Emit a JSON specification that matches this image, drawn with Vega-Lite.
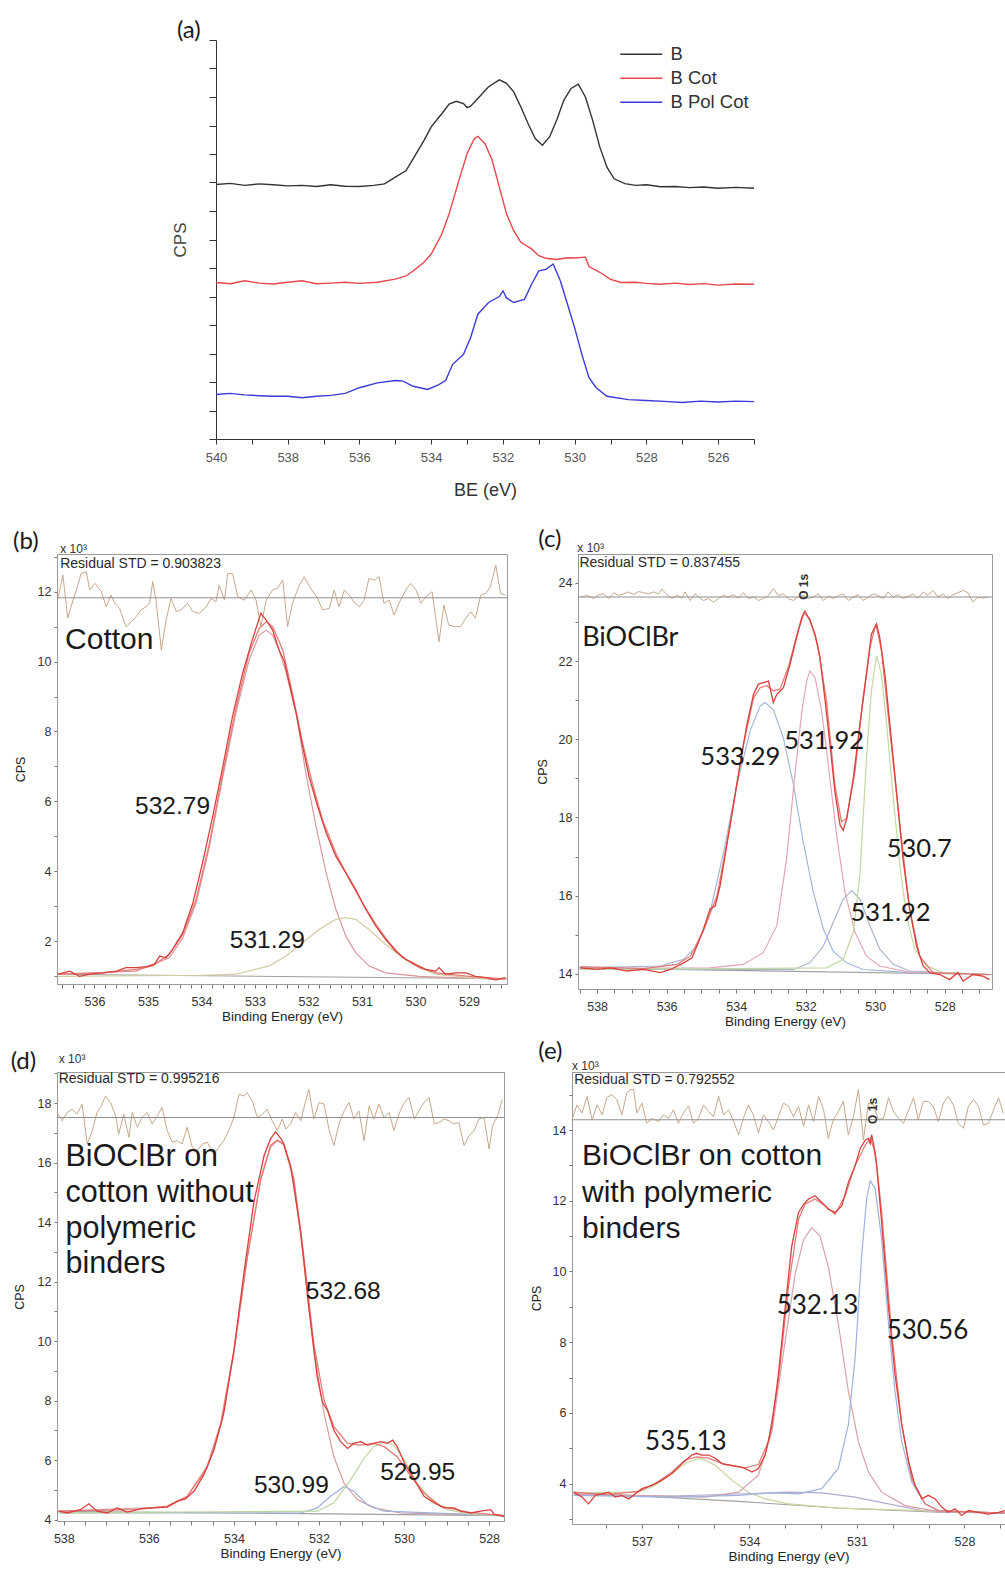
{
"$schema":"https://vega.github.io/schema/vega-lite/v6.json",
"padding":{"left":10,"top":19,"right":0,"bottom":0},
"background":"white",
"config":{"font":"Liberation Sans","view":{"stroke":null},
 "axis":{"grid":false,"labelFont":"Liberation Sans","titleFont":"Liberation Sans","labelColor":"#333","titleColor":"#222","titleFontWeight":"normal","labelOverlap":false,"labelFlush":false,"domainColor":"#999","tickColor":"#777"},
 "text":{"color":"#1a1a1a"}},
"resolve":{"scale":{"color":"independent","strokeWidth":"independent"},"legend":{"color":"independent","strokeWidth":"independent"}},
"datasets":{
"a":[
{"s":"B","be":540,"cps":8.93},{"s":"B","be":539.6,"cps":8.97},{"s":"B","be":539.2,"cps":8.9},{"s":"B","be":538.8,"cps":8.95},{"s":"B","be":538.4,"cps":8.92},{"s":"B","be":538,"cps":8.88},{"s":"B","be":537.6,"cps":8.9},{"s":"B","be":537.2,"cps":8.86},{"s":"B","be":536.8,"cps":8.92},{"s":"B","be":536.4,"cps":8.87},{"s":"B","be":536,"cps":8.86},{"s":"B","be":535.6,"cps":8.9},{"s":"B","be":535.3,"cps":8.95},{"s":"B","be":535,"cps":9.19},{"s":"B","be":534.7,"cps":9.42},{"s":"B","be":534.5,"cps":9.84},{"s":"B","be":534.2,"cps":10.48},{"s":"B","be":534,"cps":10.95},{"s":"B","be":533.7,"cps":11.42},{"s":"B","be":533.5,"cps":11.75},{"s":"B","be":533.3,"cps":11.85},{"s":"B","be":533.1,"cps":11.77},{"s":"B","be":533,"cps":11.63},{"s":"B","be":532.9,"cps":11.68},{"s":"B","be":532.7,"cps":11.95},{"s":"B","be":532.4,"cps":12.36},{"s":"B","be":532.1,"cps":12.6},{"s":"B","be":531.9,"cps":12.48},{"s":"B","be":531.7,"cps":12.18},{"s":"B","be":531.5,"cps":11.65},{"s":"B","be":531.3,"cps":11.07},{"s":"B","be":531.1,"cps":10.54},{"s":"B","be":530.9,"cps":10.31},{"s":"B","be":530.7,"cps":10.6},{"s":"B","be":530.5,"cps":11.19},{"s":"B","be":530.3,"cps":11.89},{"s":"B","be":530.1,"cps":12.3},{"s":"B","be":529.9,"cps":12.45},{"s":"B","be":529.7,"cps":12.0},{"s":"B","be":529.5,"cps":11.19},{"s":"B","be":529.3,"cps":10.25},{"s":"B","be":529.1,"cps":9.54},{"s":"B","be":528.9,"cps":9.13},{"s":"B","be":528.6,"cps":8.96},{"s":"B","be":528.3,"cps":8.9},{"s":"B","be":528,"cps":8.92},{"s":"B","be":527.6,"cps":8.85},{"s":"B","be":527.2,"cps":8.86},{"s":"B","be":526.8,"cps":8.82},{"s":"B","be":526.4,"cps":8.84},{"s":"B","be":526,"cps":8.8},{"s":"B","be":525.5,"cps":8.83},{"s":"B","be":525,"cps":8.8},
{"s":"B Cot","be":540,"cps":5.49},{"s":"B Cot","be":539.6,"cps":5.45},{"s":"B Cot","be":539.2,"cps":5.55},{"s":"B Cot","be":538.8,"cps":5.47},{"s":"B Cot","be":538.4,"cps":5.44},{"s":"B Cot","be":538,"cps":5.5},{"s":"B Cot","be":537.6,"cps":5.55},{"s":"B Cot","be":537.2,"cps":5.45},{"s":"B Cot","be":536.8,"cps":5.47},{"s":"B Cot","be":536.4,"cps":5.5},{"s":"B Cot","be":536,"cps":5.46},{"s":"B Cot","be":535.5,"cps":5.5},{"s":"B Cot","be":535,"cps":5.61},{"s":"B Cot","be":534.7,"cps":5.72},{"s":"B Cot","be":534.5,"cps":5.9},{"s":"B Cot","be":534.2,"cps":6.2},{"s":"B Cot","be":534,"cps":6.49},{"s":"B Cot","be":533.7,"cps":7.2},{"s":"B Cot","be":533.5,"cps":7.9},{"s":"B Cot","be":533.2,"cps":9.19},{"s":"B Cot","be":533,"cps":10.01},{"s":"B Cot","be":532.8,"cps":10.54},{"s":"B Cot","be":532.7,"cps":10.62},{"s":"B Cot","be":532.5,"cps":10.36},{"s":"B Cot","be":532.3,"cps":9.78},{"s":"B Cot","be":532.1,"cps":8.84},{"s":"B Cot","be":531.9,"cps":7.9},{"s":"B Cot","be":531.7,"cps":7.31},{"s":"B Cot","be":531.5,"cps":6.9},{"s":"B Cot","be":531.2,"cps":6.67},{"s":"B Cot","be":531,"cps":6.43},{"s":"B Cot","be":530.8,"cps":6.34},{"s":"B Cot","be":530.5,"cps":6.3},{"s":"B Cot","be":530.2,"cps":6.36},{"s":"B Cot","be":530,"cps":6.35},{"s":"B Cot","be":529.7,"cps":6.38},{"s":"B Cot","be":529.6,"cps":6.05},{"s":"B Cot","be":529.3,"cps":5.85},{"s":"B Cot","be":529,"cps":5.6},{"s":"B Cot","be":528.7,"cps":5.49},{"s":"B Cot","be":528.3,"cps":5.5},{"s":"B Cot","be":528,"cps":5.46},{"s":"B Cot","be":527.6,"cps":5.43},{"s":"B Cot","be":527.2,"cps":5.47},{"s":"B Cot","be":526.8,"cps":5.42},{"s":"B Cot","be":526.4,"cps":5.45},{"s":"B Cot","be":526,"cps":5.4},{"s":"B Cot","be":525.5,"cps":5.44},{"s":"B Cot","be":525,"cps":5.43},
{"s":"B Pol Cot","be":540,"cps":1.56},{"s":"B Pol Cot","be":539.6,"cps":1.6},{"s":"B Pol Cot","be":539.2,"cps":1.55},{"s":"B Pol Cot","be":538.8,"cps":1.52},{"s":"B Pol Cot","be":538.4,"cps":1.5},{"s":"B Pol Cot","be":538,"cps":1.5},{"s":"B Pol Cot","be":537.6,"cps":1.45},{"s":"B Pol Cot","be":537.2,"cps":1.5},{"s":"B Pol Cot","be":536.8,"cps":1.53},{"s":"B Pol Cot","be":536.4,"cps":1.6},{"s":"B Pol Cot","be":536,"cps":1.8},{"s":"B Pol Cot","be":535.5,"cps":1.97},{"s":"B Pol Cot","be":535,"cps":2.05},{"s":"B Pol Cot","be":534.8,"cps":2.04},{"s":"B Pol Cot","be":534.5,"cps":1.85},{"s":"B Pol Cot","be":534.1,"cps":1.74},{"s":"B Pol Cot","be":533.8,"cps":1.9},{"s":"B Pol Cot","be":533.6,"cps":2.05},{"s":"B Pol Cot","be":533.4,"cps":2.62},{"s":"B Pol Cot","be":533.1,"cps":2.97},{"s":"B Pol Cot","be":532.9,"cps":3.56},{"s":"B Pol Cot","be":532.7,"cps":4.38},{"s":"B Pol Cot","be":532.4,"cps":4.79},{"s":"B Pol Cot","be":532.1,"cps":5.0},{"s":"B Pol Cot","be":532,"cps":5.2},{"s":"B Pol Cot","be":531.9,"cps":4.95},{"s":"B Pol Cot","be":531.7,"cps":4.79},{"s":"B Pol Cot","be":531.4,"cps":4.9},{"s":"B Pol Cot","be":531.2,"cps":5.43},{"s":"B Pol Cot","be":531,"cps":5.9},{"s":"B Pol Cot","be":530.8,"cps":5.95},{"s":"B Pol Cot","be":530.6,"cps":6.14},{"s":"B Pol Cot","be":530.4,"cps":5.55},{"s":"B Pol Cot","be":530.2,"cps":4.73},{"s":"B Pol Cot","be":530,"cps":3.9},{"s":"B Pol Cot","be":529.8,"cps":2.97},{"s":"B Pol Cot","be":529.6,"cps":2.15},{"s":"B Pol Cot","be":529.4,"cps":1.8},{"s":"B Pol Cot","be":529.1,"cps":1.5},{"s":"B Pol Cot","be":528.5,"cps":1.38},{"s":"B Pol Cot","be":528,"cps":1.35},{"s":"B Pol Cot","be":527.5,"cps":1.32},{"s":"B Pol Cot","be":527,"cps":1.28},{"s":"B Pol Cot","be":526.5,"cps":1.33},{"s":"B Pol Cot","be":526,"cps":1.3},{"s":"B Pol Cot","be":525.5,"cps":1.33},{"s":"B Pol Cot","be":525,"cps":1.31}
],
"a_t":[{"be":541.09,"cps":14.07,"t":"(a)"}],
"b":[
{"s":"res","be":536.68,"cps":11.81},{"s":"res","be":536.59,"cps":12.48},{"s":"res","be":536.5,"cps":11.24},{"s":"res","be":536.4,"cps":11.76},{"s":"res","be":536.31,"cps":12.19},{"s":"res","be":536.25,"cps":12.52},{"s":"res","be":536.15,"cps":12.57},{"s":"res","be":536.09,"cps":12.05},{"s":"res","be":535.99,"cps":12.24},{"s":"res","be":535.87,"cps":12.0},{"s":"res","be":535.78,"cps":11.57},{"s":"res","be":535.69,"cps":11.9},{"s":"res","be":535.62,"cps":11.67},{"s":"res","be":535.53,"cps":11.52},{"s":"res","be":535.41,"cps":11.0},{"s":"res","be":535.31,"cps":11.14},{"s":"res","be":535.22,"cps":11.29},{"s":"res","be":535.13,"cps":11.48},{"s":"res","be":535.03,"cps":11.57},{"s":"res","be":534.97,"cps":11.67},{"s":"res","be":534.91,"cps":12.29},{"s":"res","be":534.85,"cps":11.76},{"s":"res","be":534.75,"cps":10.33},{"s":"res","be":534.66,"cps":11.19},{"s":"res","be":534.57,"cps":11.81},{"s":"res","be":534.47,"cps":11.43},{"s":"res","be":534.38,"cps":11.48},{"s":"res","be":534.26,"cps":11.67},{"s":"res","be":534.16,"cps":11.43},{"s":"res","be":534.04,"cps":11.38},{"s":"res","be":533.91,"cps":11.57},{"s":"res","be":533.82,"cps":11.81},{"s":"res","be":533.73,"cps":11.71},{"s":"res","be":533.67,"cps":12.19},{"s":"res","be":533.57,"cps":11.76},{"s":"res","be":533.51,"cps":12.52},{"s":"res","be":533.42,"cps":12.52},{"s":"res","be":533.32,"cps":11.86},{"s":"res","be":533.2,"cps":11.76},{"s":"res","be":533.07,"cps":12.05},{"s":"res","be":532.98,"cps":11.76},{"s":"res","be":532.89,"cps":11.0},{"s":"res","be":532.79,"cps":11.76},{"s":"res","be":532.67,"cps":12.05},{"s":"res","be":532.58,"cps":12.1},{"s":"res","be":532.48,"cps":12.33},{"s":"res","be":532.39,"cps":11.0},{"s":"res","be":532.3,"cps":11.67},{"s":"res","be":532.17,"cps":12.19},{"s":"res","be":532.08,"cps":12.43},{"s":"res","be":531.96,"cps":12.1},{"s":"res","be":531.83,"cps":11.81},{"s":"res","be":531.74,"cps":11.48},{"s":"res","be":531.61,"cps":11.52},{"s":"res","be":531.52,"cps":12.05},{"s":"res","be":531.43,"cps":11.57},{"s":"res","be":531.33,"cps":12.05},{"s":"res","be":531.24,"cps":11.9},{"s":"res","be":531.15,"cps":11.71},{"s":"res","be":531.05,"cps":11.57},{"s":"res","be":530.96,"cps":11.76},{"s":"res","be":530.87,"cps":12.38},{"s":"res","be":530.77,"cps":12.33},{"s":"res","be":530.68,"cps":12.43},{"s":"res","be":530.59,"cps":11.67},{"s":"res","be":530.49,"cps":11.76},{"s":"res","be":530.4,"cps":11.33},{"s":"res","be":530.31,"cps":11.67},{"s":"res","be":530.18,"cps":12.05},{"s":"res","be":530.09,"cps":12.24},{"s":"res","be":529.99,"cps":12.05},{"s":"res","be":529.9,"cps":11.67},{"s":"res","be":529.78,"cps":11.9},{"s":"res","be":529.69,"cps":12.0},{"s":"res","be":529.56,"cps":10.57},{"s":"res","be":529.47,"cps":11.62},{"s":"res","be":529.38,"cps":11.05},{"s":"res","be":529.28,"cps":11.0},{"s":"res","be":529.16,"cps":11.0},{"s":"res","be":529.06,"cps":11.24},{"s":"res","be":528.97,"cps":11.43},{"s":"res","be":528.88,"cps":11.24},{"s":"res","be":528.78,"cps":11.9},{"s":"res","be":528.69,"cps":11.95},{"s":"res","be":528.6,"cps":12.14},{"s":"res","be":528.5,"cps":12.76},{"s":"res","be":528.41,"cps":11.95},{"s":"res","be":528.32,"cps":11.9},
{"s":"zero","be":536.7,"cps":11.83},{"s":"zero","be":528.29,"cps":11.83},
{"s":"bg","be":536.7,"cps":1.05},{"s":"bg","be":528.29,"cps":0.92},
{"s":"c1","be":536.68,"cps":1.05},{"s":"c1","be":535.22,"cps":1.14},{"s":"c1","be":534.6,"cps":1.52},{"s":"c1","be":534.35,"cps":2.09},{"s":"c1","be":534.1,"cps":3.09},{"s":"c1","be":533.85,"cps":4.71},{"s":"c1","be":533.6,"cps":6.71},{"s":"c1","be":533.35,"cps":8.57},{"s":"c1","be":533.11,"cps":10.05},{"s":"c1","be":532.92,"cps":10.76},{"s":"c1","be":532.79,"cps":10.9},{"s":"c1","be":532.67,"cps":10.76},{"s":"c1","be":532.55,"cps":10.33},{"s":"c1","be":532.42,"cps":9.7},{"s":"c1","be":532.23,"cps":8.52},{"s":"c1","be":532.05,"cps":6.81},{"s":"c1","be":531.86,"cps":5.29},{"s":"c1","be":531.67,"cps":3.95},{"s":"c1","be":531.49,"cps":2.91},{"s":"c1","be":531.3,"cps":2.14},{"s":"c1","be":531.12,"cps":1.67},{"s":"c1","be":530.87,"cps":1.29},{"s":"c1","be":530.56,"cps":1.09},{"s":"c1","be":529.93,"cps":0.99},{"s":"c1","be":528.32,"cps":0.9},
{"s":"c2","be":536.68,"cps":0.99},{"s":"c2","be":533.98,"cps":1.02},{"s":"c2","be":533.35,"cps":1.05},{"s":"c2","be":532.73,"cps":1.29},{"s":"c2","be":532.42,"cps":1.57},{"s":"c2","be":532.11,"cps":1.95},{"s":"c2","be":531.8,"cps":2.33},{"s":"c2","be":531.49,"cps":2.62},{"s":"c2","be":531.3,"cps":2.67},{"s":"c2","be":531.12,"cps":2.62},{"s":"c2","be":530.87,"cps":2.33},{"s":"c2","be":530.56,"cps":1.9},{"s":"c2","be":530.24,"cps":1.52},{"s":"c2","be":529.93,"cps":1.24},{"s":"c2","be":529.62,"cps":1.05},{"s":"c2","be":529.0,"cps":0.95},{"s":"c2","be":528.32,"cps":0.9},
{"s":"fit","be":536.68,"cps":1.05},{"s":"fit","be":535.84,"cps":1.09},{"s":"fit","be":535.22,"cps":1.19},{"s":"fit","be":534.91,"cps":1.29},{"s":"fit","be":534.6,"cps":1.62},{"s":"fit","be":534.35,"cps":2.19},{"s":"fit","be":534.1,"cps":3.19},{"s":"fit","be":533.85,"cps":4.81},{"s":"fit","be":533.6,"cps":6.81},{"s":"fit","be":533.35,"cps":8.71},{"s":"fit","be":533.11,"cps":10.24},{"s":"fit","be":532.92,"cps":10.95},{"s":"fit","be":532.79,"cps":11.14},{"s":"fit","be":532.67,"cps":11.0},{"s":"fit","be":532.48,"cps":10.33},{"s":"fit","be":532.3,"cps":9.1},{"s":"fit","be":532.11,"cps":7.67},{"s":"fit","be":531.92,"cps":6.48},{"s":"fit","be":531.74,"cps":5.48},{"s":"fit","be":531.49,"cps":4.52},{"s":"fit","be":531.24,"cps":3.76},{"s":"fit","be":530.99,"cps":3.09},{"s":"fit","be":530.74,"cps":2.48},{"s":"fit","be":530.49,"cps":1.95},{"s":"fit","be":530.24,"cps":1.52},{"s":"fit","be":529.93,"cps":1.24},{"s":"fit","be":529.62,"cps":1.09},{"s":"fit","be":529.0,"cps":0.99},{"s":"fit","be":528.32,"cps":0.92},
{"s":"meas","be":536.68,"cps":1.05},{"s":"meas","be":536.46,"cps":1.14},{"s":"meas","be":536.28,"cps":0.99},{"s":"meas","be":536.09,"cps":1.05},{"s":"meas","be":535.84,"cps":1.09},{"s":"meas","be":535.59,"cps":1.14},{"s":"meas","be":535.41,"cps":1.24},{"s":"meas","be":535.22,"cps":1.24},{"s":"meas","be":535.03,"cps":1.27},{"s":"meas","be":534.88,"cps":1.33},{"s":"meas","be":534.78,"cps":1.57},{"s":"meas","be":534.66,"cps":1.52},{"s":"meas","be":534.54,"cps":1.76},{"s":"meas","be":534.35,"cps":2.24},{"s":"meas","be":534.16,"cps":3.09},{"s":"meas","be":533.98,"cps":4.24},{"s":"meas","be":533.79,"cps":5.57},{"s":"meas","be":533.6,"cps":7.0},{"s":"meas","be":533.42,"cps":8.43},{"s":"meas","be":533.23,"cps":9.67},{"s":"meas","be":533.07,"cps":10.52},{"s":"meas","be":532.95,"cps":11.1},{"s":"meas","be":532.89,"cps":11.38},{"s":"meas","be":532.79,"cps":11.19},{"s":"meas","be":532.67,"cps":10.9},{"s":"meas","be":532.55,"cps":10.33},{"s":"meas","be":532.45,"cps":10.0},{"s":"meas","be":532.36,"cps":9.38},{"s":"meas","be":532.23,"cps":8.52},{"s":"meas","be":532.11,"cps":7.57},{"s":"meas","be":531.99,"cps":6.71},{"s":"meas","be":531.83,"cps":5.86},{"s":"meas","be":531.67,"cps":5.1},{"s":"meas","be":531.49,"cps":4.43},{"s":"meas","be":531.3,"cps":3.95},{"s":"meas","be":531.12,"cps":3.48},{"s":"meas","be":530.93,"cps":2.91},{"s":"meas","be":530.74,"cps":2.43},{"s":"meas","be":530.56,"cps":2.05},{"s":"meas","be":530.37,"cps":1.71},{"s":"meas","be":530.18,"cps":1.48},{"s":"meas","be":530.0,"cps":1.33},{"s":"meas","be":529.81,"cps":1.19},{"s":"meas","be":529.62,"cps":1.14},{"s":"meas","be":529.56,"cps":1.24},{"s":"meas","be":529.44,"cps":1.05},{"s":"meas","be":529.25,"cps":1.09},{"s":"meas","be":529.06,"cps":1.09},{"s":"meas","be":528.88,"cps":0.99},{"s":"meas","be":528.69,"cps":0.95},{"s":"meas","be":528.5,"cps":0.89},{"s":"meas","be":528.32,"cps":0.95}
],
"b_tag":[{"be":537.52,"cps":13.23,"t":"(b)"}],
"b_s":[{"be":536.64,"cps":12.69,"t":"Residual STD = 0.903823"}],
"b_x":[{"be":536.64,"cps":13.11,"t":"x 10³"}],
"b_big":[{"be":536.55,"cps":10.37,"t":"Cotton"}],
"b_num":[{"be":535.24,"cps":5.63,"t":"532.79"},{"be":533.47,"cps":1.8,"t":"531.29"}],
"c":[
{"s":"res","be":538.48,"cps":23.64},{"s":"res","be":538.29,"cps":23.68},{"s":"res","be":538.1,"cps":23.6},{"s":"res","be":537.95,"cps":23.7},{"s":"res","be":537.81,"cps":23.72},{"s":"res","be":537.67,"cps":23.6},{"s":"res","be":537.52,"cps":23.75},{"s":"res","be":537.38,"cps":23.68},{"s":"res","be":537.24,"cps":23.72},{"s":"res","be":537.09,"cps":23.77},{"s":"res","be":536.95,"cps":23.7},{"s":"res","be":536.81,"cps":23.78},{"s":"res","be":536.66,"cps":23.75},{"s":"res","be":536.52,"cps":23.72},{"s":"res","be":536.37,"cps":23.77},{"s":"res","be":536.23,"cps":23.72},{"s":"res","be":536.14,"cps":23.84},{"s":"res","be":535.99,"cps":23.7},{"s":"res","be":535.85,"cps":23.6},{"s":"res","be":535.7,"cps":23.68},{"s":"res","be":535.56,"cps":23.61},{"s":"res","be":535.47,"cps":23.77},{"s":"res","be":535.32,"cps":23.55},{"s":"res","be":535.18,"cps":23.72},{"s":"res","be":535.08,"cps":23.64},{"s":"res","be":534.94,"cps":23.55},{"s":"res","be":534.8,"cps":23.6},{"s":"res","be":534.65,"cps":23.51},{"s":"res","be":534.51,"cps":23.6},{"s":"res","be":534.37,"cps":23.68},{"s":"res","be":534.22,"cps":23.64},{"s":"res","be":534.08,"cps":23.7},{"s":"res","be":533.93,"cps":23.61},{"s":"res","be":533.79,"cps":23.75},{"s":"res","be":533.65,"cps":23.6},{"s":"res","be":533.5,"cps":23.64},{"s":"res","be":533.36,"cps":23.55},{"s":"res","be":533.22,"cps":23.6},{"s":"res","be":533.07,"cps":23.68},{"s":"res","be":532.93,"cps":23.85},{"s":"res","be":532.79,"cps":23.68},{"s":"res","be":532.64,"cps":23.72},{"s":"res","be":532.5,"cps":23.6},{"s":"res","be":532.36,"cps":23.55},{"s":"res","be":532.21,"cps":23.64},{"s":"res","be":532.07,"cps":23.68},{"s":"res","be":531.92,"cps":23.6},{"s":"res","be":531.78,"cps":23.64},{"s":"res","be":531.64,"cps":23.72},{"s":"res","be":531.49,"cps":23.55},{"s":"res","be":531.35,"cps":23.66},{"s":"res","be":531.21,"cps":23.6},{"s":"res","be":531.06,"cps":23.68},{"s":"res","be":530.92,"cps":23.72},{"s":"res","be":530.78,"cps":23.55},{"s":"res","be":530.63,"cps":23.64},{"s":"res","be":530.49,"cps":23.7},{"s":"res","be":530.35,"cps":23.55},{"s":"res","be":530.2,"cps":23.64},{"s":"res","be":530.06,"cps":23.72},{"s":"res","be":529.92,"cps":23.68},{"s":"res","be":529.77,"cps":23.6},{"s":"res","be":529.63,"cps":23.77},{"s":"res","be":529.49,"cps":23.64},{"s":"res","be":529.34,"cps":23.7},{"s":"res","be":529.2,"cps":23.6},{"s":"res","be":529.05,"cps":23.66},{"s":"res","be":528.91,"cps":23.72},{"s":"res","be":528.77,"cps":23.61},{"s":"res","be":528.62,"cps":23.77},{"s":"res","be":528.48,"cps":23.68},{"s":"res","be":528.34,"cps":23.81},{"s":"res","be":528.19,"cps":23.64},{"s":"res","be":528.05,"cps":23.72},{"s":"res","be":527.9,"cps":23.6},{"s":"res","be":527.76,"cps":23.7},{"s":"res","be":527.62,"cps":23.75},{"s":"res","be":527.47,"cps":23.81},{"s":"res","be":527.33,"cps":23.75},{"s":"res","be":527.19,"cps":23.51},{"s":"res","be":527.04,"cps":23.64},{"s":"res","be":526.9,"cps":23.61},{"s":"res","be":526.76,"cps":23.64},
{"s":"zero","be":538.55,"cps":23.64},{"s":"zero","be":526.64,"cps":23.64},
{"s":"bg","be":538.55,"cps":14.15},{"s":"bg","be":526.64,"cps":13.98},
{"s":"p1","be":538.48,"cps":14.15},{"s":"p1","be":536.18,"cps":14.2},{"s":"p1","be":535.51,"cps":14.37},{"s":"p1","be":535.13,"cps":14.71},{"s":"p1","be":534.75,"cps":15.57},{"s":"p1","be":534.36,"cps":17.12},{"s":"p1","be":533.98,"cps":18.83},{"s":"p1","be":533.6,"cps":20.21},{"s":"p1","be":533.31,"cps":20.85},{"s":"p1","be":533.17,"cps":20.94},{"s":"p1","be":532.93,"cps":20.76},{"s":"p1","be":532.64,"cps":20.03},{"s":"p1","be":532.35,"cps":18.83},{"s":"p1","be":532.07,"cps":17.37},{"s":"p1","be":531.78,"cps":16.09},{"s":"p1","be":531.49,"cps":15.14},{"s":"p1","be":531.21,"cps":14.58},{"s":"p1","be":530.82,"cps":14.28},{"s":"p1","be":530.35,"cps":14.11},{"s":"p1","be":529.01,"cps":14.03},{"s":"p1","be":526.71,"cps":13.98},
{"s":"p2","be":538.48,"cps":14.13},{"s":"p2","be":534.75,"cps":14.15},{"s":"p2","be":533.79,"cps":14.24},{"s":"p2","be":533.22,"cps":14.54},{"s":"p2","be":532.83,"cps":15.23},{"s":"p2","be":532.55,"cps":16.94},{"s":"p2","be":532.31,"cps":19.09},{"s":"p2","be":532.11,"cps":20.72},{"s":"p2","be":531.97,"cps":21.49},{"s":"p2","be":531.88,"cps":21.75},{"s":"p2","be":531.73,"cps":21.58},{"s":"p2","be":531.54,"cps":20.72},{"s":"p2","be":531.35,"cps":19.35},{"s":"p2","be":531.11,"cps":17.54},{"s":"p2","be":530.87,"cps":16.09},{"s":"p2","be":530.58,"cps":15.06},{"s":"p2","be":530.25,"cps":14.45},{"s":"p2","be":529.87,"cps":14.2},{"s":"p2","be":529.01,"cps":14.04},{"s":"p2","be":526.71,"cps":13.98},
{"s":"p3","be":538.48,"cps":14.11},{"s":"p3","be":532.35,"cps":14.11},{"s":"p3","be":531.88,"cps":14.28},{"s":"p3","be":531.49,"cps":14.71},{"s":"p3","be":531.21,"cps":15.31},{"s":"p3","be":530.92,"cps":15.91},{"s":"p3","be":530.68,"cps":16.13},{"s":"p3","be":530.44,"cps":15.91},{"s":"p3","be":530.15,"cps":15.23},{"s":"p3","be":529.87,"cps":14.63},{"s":"p3","be":529.48,"cps":14.24},{"s":"p3","be":529.01,"cps":14.07},{"s":"p3","be":526.71,"cps":13.98},
{"s":"p4","be":538.48,"cps":14.11},{"s":"p4","be":531.4,"cps":14.15},{"s":"p4","be":530.92,"cps":14.37},{"s":"p4","be":530.63,"cps":15.06},{"s":"p4","be":530.44,"cps":16.52},{"s":"p4","be":530.25,"cps":19.52},{"s":"p4","be":530.11,"cps":21.24},{"s":"p4","be":529.96,"cps":22.14},{"s":"p4","be":529.82,"cps":21.66},{"s":"p4","be":529.67,"cps":20.38},{"s":"p4","be":529.48,"cps":18.49},{"s":"p4","be":529.29,"cps":16.77},{"s":"p4","be":529.1,"cps":15.48},{"s":"p4","be":528.86,"cps":14.63},{"s":"p4","be":528.53,"cps":14.2},{"s":"p4","be":528.04,"cps":14.03},{"s":"p4","be":526.71,"cps":13.98},
{"s":"fit","be":538.48,"cps":14.18},{"s":"fit","be":536.66,"cps":14.13},{"s":"fit","be":535.7,"cps":14.24},{"s":"fit","be":535.32,"cps":14.45},{"s":"fit","be":534.94,"cps":15.1},{"s":"fit","be":534.55,"cps":16.0},{"s":"fit","be":534.17,"cps":17.8},{"s":"fit","be":533.79,"cps":19.86},{"s":"fit","be":533.5,"cps":21.06},{"s":"fit","be":533.31,"cps":21.32},{"s":"fit","be":533.12,"cps":21.37},{"s":"fit","be":532.93,"cps":21.24},{"s":"fit","be":532.74,"cps":21.28},{"s":"fit","be":532.5,"cps":21.84},{"s":"fit","be":532.26,"cps":22.65},{"s":"fit","be":532.05,"cps":23.23},{"s":"fit","be":531.88,"cps":23.08},{"s":"fit","be":531.64,"cps":22.35},{"s":"fit","be":531.4,"cps":20.98},{"s":"fit","be":531.16,"cps":18.83},{"s":"fit","be":530.97,"cps":17.89},{"s":"fit","be":530.82,"cps":17.97},{"s":"fit","be":530.58,"cps":19.18},{"s":"fit","be":530.35,"cps":21.06},{"s":"fit","be":530.15,"cps":22.35},{"s":"fit","be":529.98,"cps":22.95},{"s":"fit","be":529.82,"cps":22.27},{"s":"fit","be":529.58,"cps":20.21},{"s":"fit","be":529.29,"cps":17.8},{"s":"fit","be":529.01,"cps":15.66},{"s":"fit","be":528.72,"cps":14.45},{"s":"fit","be":528.34,"cps":14.03},{"s":"fit","be":526.71,"cps":13.98},
{"s":"meas","be":538.48,"cps":14.15},{"s":"meas","be":538.0,"cps":14.11},{"s":"meas","be":537.62,"cps":14.15},{"s":"meas","be":537.14,"cps":14.07},{"s":"meas","be":536.66,"cps":14.11},{"s":"meas","be":536.18,"cps":14.03},{"s":"meas","be":535.89,"cps":14.11},{"s":"meas","be":535.51,"cps":14.28},{"s":"meas","be":535.27,"cps":14.41},{"s":"meas","be":535.13,"cps":14.71},{"s":"meas","be":534.94,"cps":15.14},{"s":"meas","be":534.75,"cps":15.66},{"s":"meas","be":534.6,"cps":15.74},{"s":"meas","be":534.46,"cps":16.26},{"s":"meas","be":534.27,"cps":17.29},{"s":"meas","be":534.08,"cps":18.32},{"s":"meas","be":533.89,"cps":19.35},{"s":"meas","be":533.69,"cps":20.38},{"s":"meas","be":533.5,"cps":21.15},{"s":"meas","be":533.36,"cps":21.41},{"s":"meas","be":533.22,"cps":21.45},{"s":"meas","be":533.07,"cps":21.49},{"s":"meas","be":532.93,"cps":20.94},{"s":"meas","be":532.83,"cps":21.15},{"s":"meas","be":532.64,"cps":21.32},{"s":"meas","be":532.45,"cps":21.92},{"s":"meas","be":532.26,"cps":22.61},{"s":"meas","be":532.11,"cps":23.12},{"s":"meas","be":532.02,"cps":23.28},{"s":"meas","be":531.88,"cps":23.04},{"s":"meas","be":531.73,"cps":22.69},{"s":"meas","be":531.59,"cps":22.09},{"s":"meas","be":531.45,"cps":21.06},{"s":"meas","be":531.3,"cps":19.86},{"s":"meas","be":531.16,"cps":18.66},{"s":"meas","be":531.01,"cps":17.8},{"s":"meas","be":530.92,"cps":17.67},{"s":"meas","be":530.82,"cps":17.97},{"s":"meas","be":530.63,"cps":19.0},{"s":"meas","be":530.44,"cps":20.38},{"s":"meas","be":530.25,"cps":21.66},{"s":"meas","be":530.11,"cps":22.69},{"s":"meas","be":529.96,"cps":22.95},{"s":"meas","be":529.87,"cps":22.61},{"s":"meas","be":529.72,"cps":21.66},{"s":"meas","be":529.53,"cps":19.95},{"s":"meas","be":529.34,"cps":18.23},{"s":"meas","be":529.2,"cps":16.94},{"s":"meas","be":529.01,"cps":15.66},{"s":"meas","be":528.81,"cps":14.71},{"s":"meas","be":528.62,"cps":14.2},{"s":"meas","be":528.43,"cps":14.03},{"s":"meas","be":528.14,"cps":13.98},{"s":"meas","be":527.86,"cps":13.85},{"s":"meas","be":527.62,"cps":14.03},{"s":"meas","be":527.47,"cps":13.81},{"s":"meas","be":527.19,"cps":13.98},{"s":"meas","be":526.9,"cps":13.94},{"s":"meas","be":526.71,"cps":13.85}
],
"c_tag":[{"be":539.69,"cps":24.93,"t":"(c)"}],
"c_s":[{"be":538.51,"cps":24.41,"t":"Residual STD = 0.837455"}],
"c_x":[{"be":538.57,"cps":24.8,"t":"x 10³"}],
"c_o":[{"be":532.05,"cps":23.9,"t":"O 1s"}],
"c_big":[{"be":538.43,"cps":22.39,"t":"BiOClBr"}],
"c_num":[{"be":535.03,"cps":19.33,"t":"533.29"},{"be":532.62,"cps":19.76,"t":"531.92"},{"be":529.67,"cps":16.98,"t":"530.7"},{"be":530.71,"cps":15.35,"t":"531.92"}],
"d":[
{"s":"res","be":538.16,"cps":17.69},{"s":"res","be":538.04,"cps":17.41},{"s":"res","be":537.92,"cps":17.69},{"s":"res","be":537.8,"cps":17.8},{"s":"res","be":537.69,"cps":17.63},{"s":"res","be":537.57,"cps":17.97},{"s":"res","be":537.45,"cps":16.63},{"s":"res","be":537.33,"cps":17.08},{"s":"res","be":537.22,"cps":17.69},{"s":"res","be":537.14,"cps":17.86},{"s":"res","be":537.02,"cps":18.24},{"s":"res","be":536.9,"cps":18.02},{"s":"res","be":536.78,"cps":17.58},{"s":"res","be":536.71,"cps":16.96},{"s":"res","be":536.59,"cps":17.63},{"s":"res","be":536.47,"cps":16.85},{"s":"res","be":536.39,"cps":17.69},{"s":"res","be":536.27,"cps":17.19},{"s":"res","be":536.16,"cps":17.52},{"s":"res","be":536.04,"cps":17.69},{"s":"res","be":535.92,"cps":17.3},{"s":"res","be":535.8,"cps":17.58},{"s":"res","be":535.69,"cps":17.86},{"s":"res","be":535.57,"cps":17.08},{"s":"res","be":535.45,"cps":16.69},{"s":"res","be":535.33,"cps":16.74},{"s":"res","be":535.22,"cps":16.63},{"s":"res","be":535.1,"cps":17.19},{"s":"res","be":534.98,"cps":16.52},{"s":"res","be":534.86,"cps":16.41},{"s":"res","be":534.74,"cps":16.63},{"s":"res","be":534.63,"cps":16.69},{"s":"res","be":534.47,"cps":16.3},{"s":"res","be":534.35,"cps":16.52},{"s":"res","be":534.24,"cps":16.74},{"s":"res","be":534.12,"cps":17.08},{"s":"res","be":534.0,"cps":17.52},{"s":"res","be":533.88,"cps":18.3},{"s":"res","be":533.76,"cps":18.24},{"s":"res","be":533.69,"cps":18.36},{"s":"res","be":533.57,"cps":18.08},{"s":"res","be":533.45,"cps":17.52},{"s":"res","be":533.33,"cps":17.63},{"s":"res","be":533.22,"cps":17.8},{"s":"res","be":533.1,"cps":17.41},{"s":"res","be":532.98,"cps":17.08},{"s":"res","be":532.86,"cps":17.47},{"s":"res","be":532.78,"cps":17.13},{"s":"res","be":532.67,"cps":17.3},{"s":"res","be":532.55,"cps":17.69},{"s":"res","be":532.43,"cps":17.41},{"s":"res","be":532.35,"cps":17.86},{"s":"res","be":532.24,"cps":18.47},{"s":"res","be":532.12,"cps":17.47},{"s":"res","be":532.0,"cps":18.02},{"s":"res","be":531.88,"cps":17.97},{"s":"res","be":531.76,"cps":17.08},{"s":"res","be":531.65,"cps":16.58},{"s":"res","be":531.53,"cps":17.3},{"s":"res","be":531.41,"cps":17.74},{"s":"res","be":531.29,"cps":18.02},{"s":"res","be":531.18,"cps":17.47},{"s":"res","be":531.06,"cps":17.74},{"s":"res","be":530.94,"cps":16.74},{"s":"res","be":530.82,"cps":17.91},{"s":"res","be":530.71,"cps":17.47},{"s":"res","be":530.59,"cps":17.97},{"s":"res","be":530.47,"cps":17.52},{"s":"res","be":530.35,"cps":17.69},{"s":"res","be":530.24,"cps":17.08},{"s":"res","be":530.12,"cps":17.63},{"s":"res","be":530.0,"cps":18.02},{"s":"res","be":529.88,"cps":18.19},{"s":"res","be":529.76,"cps":17.47},{"s":"res","be":529.65,"cps":17.74},{"s":"res","be":529.53,"cps":18.02},{"s":"res","be":529.41,"cps":18.19},{"s":"res","be":529.29,"cps":17.3},{"s":"res","be":529.18,"cps":17.35},{"s":"res","be":529.06,"cps":17.47},{"s":"res","be":528.94,"cps":17.41},{"s":"res","be":528.82,"cps":17.3},{"s":"res","be":528.71,"cps":17.35},{"s":"res","be":528.59,"cps":16.58},{"s":"res","be":528.47,"cps":16.91},{"s":"res","be":528.35,"cps":17.08},{"s":"res","be":528.24,"cps":17.47},{"s":"res","be":528.12,"cps":17.52},{"s":"res","be":528.0,"cps":16.46},{"s":"res","be":527.92,"cps":17.24},{"s":"res","be":527.8,"cps":17.58},{"s":"res","be":527.69,"cps":18.13},
{"s":"zero","be":538.16,"cps":17.52},{"s":"zero","be":527.65,"cps":17.52},
{"s":"bg","be":538.16,"cps":4.28},{"s":"bg","be":527.65,"cps":4.13},
{"s":"p1","be":538.12,"cps":4.28},{"s":"p1","be":535.57,"cps":4.42},{"s":"p1","be":535.1,"cps":4.76},{"s":"p1","be":534.63,"cps":5.72},{"s":"p1","be":534.31,"cps":7.17},{"s":"p1","be":534.0,"cps":9.62},{"s":"p1","be":533.69,"cps":12.74},{"s":"p1","be":533.37,"cps":15.41},{"s":"p1","be":533.14,"cps":16.52},{"s":"p1","be":532.98,"cps":16.74},{"s":"p1","be":532.82,"cps":16.6},{"s":"p1","be":532.59,"cps":15.35},{"s":"p1","be":532.35,"cps":12.57},{"s":"p1","be":532.12,"cps":9.68},{"s":"p1","be":531.88,"cps":7.56},{"s":"p1","be":531.65,"cps":6.11},{"s":"p1","be":531.41,"cps":5.22},{"s":"p1","be":531.1,"cps":4.67},{"s":"p1","be":530.71,"cps":4.39},{"s":"p1","be":530.08,"cps":4.22},{"s":"p1","be":527.65,"cps":4.13},
{"s":"p2","be":538.12,"cps":4.22},{"s":"p2","be":532.43,"cps":4.22},{"s":"p2","be":532.04,"cps":4.39},{"s":"p2","be":531.73,"cps":4.78},{"s":"p2","be":531.41,"cps":5.11},{"s":"p2","be":531.18,"cps":4.95},{"s":"p2","be":530.86,"cps":4.5},{"s":"p2","be":530.47,"cps":4.28},{"s":"p2","be":527.65,"cps":4.13},
{"s":"p3","be":538.12,"cps":4.22},{"s":"p3","be":532.04,"cps":4.28},{"s":"p3","be":531.65,"cps":4.56},{"s":"p3","be":531.25,"cps":5.34},{"s":"p3","be":530.94,"cps":6.06},{"s":"p3","be":530.71,"cps":6.45},{"s":"p3","be":530.47,"cps":6.62},{"s":"p3","be":530.24,"cps":6.5},{"s":"p3","be":529.99,"cps":6.0},{"s":"p3","be":529.69,"cps":5.22},{"s":"p3","be":529.37,"cps":4.67},{"s":"p3","be":528.98,"cps":4.33},{"s":"p3","be":528.51,"cps":4.2},{"s":"p3","be":527.65,"cps":4.13},
{"s":"fit","be":538.12,"cps":4.28},{"s":"fit","be":536.35,"cps":4.33},{"s":"fit","be":535.57,"cps":4.45},{"s":"fit","be":535.1,"cps":4.78},{"s":"fit","be":534.63,"cps":5.78},{"s":"fit","be":534.31,"cps":7.23},{"s":"fit","be":534.0,"cps":9.68},{"s":"fit","be":533.69,"cps":12.79},{"s":"fit","be":533.37,"cps":15.46},{"s":"fit","be":533.14,"cps":16.58},{"s":"fit","be":532.98,"cps":16.76},{"s":"fit","be":532.82,"cps":16.63},{"s":"fit","be":532.59,"cps":15.46},{"s":"fit","be":532.35,"cps":12.79},{"s":"fit","be":532.12,"cps":9.9},{"s":"fit","be":531.88,"cps":8.01},{"s":"fit","be":531.65,"cps":7.12},{"s":"fit","be":531.33,"cps":6.56},{"s":"fit","be":531.02,"cps":6.5},{"s":"fit","be":530.71,"cps":6.56},{"s":"fit","be":530.47,"cps":6.45},{"s":"fit","be":530.16,"cps":6.11},{"s":"fit","be":529.84,"cps":5.45},{"s":"fit","be":529.53,"cps":4.89},{"s":"fit","be":529.14,"cps":4.45},{"s":"fit","be":528.51,"cps":4.25},{"s":"fit","be":527.65,"cps":4.13},
{"s":"meas","be":538.12,"cps":4.28},{"s":"meas","be":537.92,"cps":4.22},{"s":"meas","be":537.61,"cps":4.33},{"s":"meas","be":537.41,"cps":4.53},{"s":"meas","be":537.22,"cps":4.28},{"s":"meas","be":536.98,"cps":4.22},{"s":"meas","be":536.75,"cps":4.39},{"s":"meas","be":536.51,"cps":4.25},{"s":"meas","be":536.2,"cps":4.36},{"s":"meas","be":535.88,"cps":4.39},{"s":"meas","be":535.57,"cps":4.42},{"s":"meas","be":535.33,"cps":4.62},{"s":"meas","be":535.14,"cps":4.69},{"s":"meas","be":534.94,"cps":4.95},{"s":"meas","be":534.71,"cps":5.5},{"s":"meas","be":534.47,"cps":6.34},{"s":"meas","be":534.24,"cps":7.56},{"s":"meas","be":534.0,"cps":9.68},{"s":"meas","be":533.76,"cps":12.35},{"s":"meas","be":533.53,"cps":14.68},{"s":"meas","be":533.29,"cps":16.24},{"s":"meas","be":533.14,"cps":16.8},{"s":"meas","be":533.02,"cps":17.04},{"s":"meas","be":532.86,"cps":16.74},{"s":"meas","be":532.67,"cps":15.91},{"s":"meas","be":532.43,"cps":13.68},{"s":"meas","be":532.24,"cps":11.12},{"s":"meas","be":532.04,"cps":8.79},{"s":"meas","be":531.92,"cps":7.95},{"s":"meas","be":531.8,"cps":7.67},{"s":"meas","be":531.65,"cps":7.0},{"s":"meas","be":531.49,"cps":6.62},{"s":"meas","be":531.33,"cps":6.39},{"s":"meas","be":531.18,"cps":6.56},{"s":"meas","be":531.02,"cps":6.62},{"s":"meas","be":530.86,"cps":6.5},{"s":"meas","be":530.71,"cps":6.56},{"s":"meas","be":530.55,"cps":6.62},{"s":"meas","be":530.39,"cps":6.56},{"s":"meas","be":530.27,"cps":6.67},{"s":"meas","be":530.16,"cps":6.45},{"s":"meas","be":529.99,"cps":5.89},{"s":"meas","be":529.76,"cps":5.34},{"s":"meas","be":529.53,"cps":4.78},{"s":"meas","be":529.29,"cps":4.56},{"s":"meas","be":529.06,"cps":4.39},{"s":"meas","be":528.82,"cps":4.39},{"s":"meas","be":528.67,"cps":4.28},{"s":"meas","be":528.43,"cps":4.22},{"s":"meas","be":528.2,"cps":4.28},{"s":"meas","be":527.96,"cps":4.33},{"s":"meas","be":527.88,"cps":4.17},{"s":"meas","be":527.65,"cps":4.11}
],
"d_tag":[{"be":539.25,"cps":19.15,"t":"(d)"}],
"d_s":[{"be":538.12,"cps":18.67,"t":"Residual STD = 0.995216"}],
"d_x":[{"be":538.12,"cps":19.36,"t":"x 10³"}],
"d_big":[{"be":537.96,"cps":15.88,"t":"BiOClBr on"},{"be":537.96,"cps":14.68,"t":"cotton without"},{"be":537.96,"cps":13.48,"t":"polymeric"},{"be":537.96,"cps":12.29,"t":"binders"}],
"d_num":[{"be":532.31,"cps":11.4,"t":"532.68"},{"be":533.53,"cps":4.89,"t":"530.99"},{"be":530.56,"cps":5.33,"t":"529.95"}],
"e":[
{"s":"res","be":538.95,"cps":14.29},{"s":"res","be":538.81,"cps":14.71},{"s":"res","be":538.67,"cps":14.48},{"s":"res","be":538.53,"cps":14.95},{"s":"res","be":538.39,"cps":14.29},{"s":"res","be":538.25,"cps":14.71},{"s":"res","be":538.11,"cps":14.43},{"s":"res","be":537.98,"cps":14.91},{"s":"res","be":537.84,"cps":15.0},{"s":"res","be":537.7,"cps":14.86},{"s":"res","be":537.56,"cps":14.43},{"s":"res","be":537.42,"cps":15.05},{"s":"res","be":537.33,"cps":15.14},{"s":"res","be":537.23,"cps":15.14},{"s":"res","be":537.14,"cps":14.48},{"s":"res","be":537.0,"cps":14.76},{"s":"res","be":536.86,"cps":14.19},{"s":"res","be":536.72,"cps":14.33},{"s":"res","be":536.54,"cps":14.24},{"s":"res","be":536.4,"cps":14.43},{"s":"res","be":536.26,"cps":14.33},{"s":"res","be":536.12,"cps":14.57},{"s":"res","be":535.98,"cps":14.19},{"s":"res","be":535.84,"cps":14.48},{"s":"res","be":535.7,"cps":14.67},{"s":"res","be":535.56,"cps":14.19},{"s":"res","be":535.42,"cps":14.33},{"s":"res","be":535.28,"cps":14.71},{"s":"res","be":535.14,"cps":14.52},{"s":"res","be":535.0,"cps":14.38},{"s":"res","be":534.86,"cps":14.95},{"s":"res","be":534.72,"cps":14.43},{"s":"res","be":534.58,"cps":14.57},{"s":"res","be":534.44,"cps":14.24},{"s":"res","be":534.3,"cps":13.86},{"s":"res","be":534.17,"cps":14.33},{"s":"res","be":534.03,"cps":14.71},{"s":"res","be":533.89,"cps":14.43},{"s":"res","be":533.75,"cps":13.91},{"s":"res","be":533.61,"cps":14.43},{"s":"res","be":533.47,"cps":14.24},{"s":"res","be":533.33,"cps":14.0},{"s":"res","be":533.19,"cps":14.38},{"s":"res","be":533.05,"cps":14.76},{"s":"res","be":532.91,"cps":14.67},{"s":"res","be":532.77,"cps":14.38},{"s":"res","be":532.63,"cps":14.67},{"s":"res","be":532.49,"cps":14.1},{"s":"res","be":532.35,"cps":14.71},{"s":"res","be":532.21,"cps":14.24},{"s":"res","be":532.07,"cps":14.95},{"s":"res","be":531.93,"cps":14.57},{"s":"res","be":531.8,"cps":13.76},{"s":"res","be":531.66,"cps":14.29},{"s":"res","be":531.52,"cps":14.52},{"s":"res","be":531.38,"cps":14.81},{"s":"res","be":531.24,"cps":13.86},{"s":"res","be":531.1,"cps":14.38},{"s":"res","be":530.96,"cps":15.14},{"s":"res","be":530.82,"cps":13.72},{"s":"res","be":530.68,"cps":14.76},{"s":"res","be":530.54,"cps":14.71},{"s":"res","be":530.4,"cps":14.29},{"s":"res","be":530.26,"cps":14.33},{"s":"res","be":530.12,"cps":14.91},{"s":"res","be":529.98,"cps":14.52},{"s":"res","be":529.84,"cps":14.33},{"s":"res","be":529.7,"cps":14.19},{"s":"res","be":529.56,"cps":14.57},{"s":"res","be":529.42,"cps":14.91},{"s":"res","be":529.29,"cps":14.29},{"s":"res","be":529.15,"cps":14.81},{"s":"res","be":529.01,"cps":14.81},{"s":"res","be":528.87,"cps":14.67},{"s":"res","be":528.73,"cps":14.24},{"s":"res","be":528.59,"cps":14.76},{"s":"res","be":528.45,"cps":14.95},{"s":"res","be":528.31,"cps":14.71},{"s":"res","be":528.17,"cps":14.19},{"s":"res","be":528.03,"cps":14.05},{"s":"res","be":527.89,"cps":14.67},{"s":"res","be":527.75,"cps":14.86},{"s":"res","be":527.61,"cps":14.67},{"s":"res","be":527.47,"cps":14.14},{"s":"res","be":527.33,"cps":14.19},{"s":"res","be":527.19,"cps":14.57},{"s":"res","be":527.05,"cps":14.91},{"s":"res","be":526.92,"cps":14.48},
{"s":"zero","be":538.95,"cps":14.29},{"s":"zero","be":526.87,"cps":14.29},
{"s":"bg","be":538.95,"cps":3.76},{"s":"bg","be":534.3,"cps":3.5},{"s":"bg","be":531.52,"cps":3.31},{"s":"bg","be":528.73,"cps":3.19},{"s":"bg","be":526.87,"cps":3.17},
{"s":"p0","be":538.9,"cps":3.69},{"s":"p0","be":536.16,"cps":3.65},{"s":"p0","be":534.3,"cps":3.71},{"s":"p0","be":532.91,"cps":3.76},{"s":"p0","be":531.98,"cps":3.74},{"s":"p0","be":531.05,"cps":3.62},{"s":"p0","be":530.12,"cps":3.43},{"s":"p0","be":529.19,"cps":3.24},{"s":"p0","be":526.87,"cps":3.17},
{"s":"p1","be":538.9,"cps":3.74},{"s":"p1","be":537.09,"cps":3.76},{"s":"p1","be":536.63,"cps":3.95},{"s":"p1","be":536.16,"cps":4.29},{"s":"p1","be":535.75,"cps":4.6},{"s":"p1","be":535.37,"cps":4.72},{"s":"p1","be":534.95,"cps":4.52},{"s":"p1","be":534.49,"cps":4.1},{"s":"p1","be":534.03,"cps":3.76},{"s":"p1","be":533.56,"cps":3.57},{"s":"p1","be":532.91,"cps":3.43},{"s":"p1","be":531.52,"cps":3.31},{"s":"p1","be":526.87,"cps":3.17},
{"s":"p2","be":538.9,"cps":3.71},{"s":"p2","be":535.23,"cps":3.62},{"s":"p2","be":534.3,"cps":3.76},{"s":"p2","be":533.75,"cps":4.24},{"s":"p2","be":533.37,"cps":5.48},{"s":"p2","be":533.0,"cps":8.05},{"s":"p2","be":532.72,"cps":9.95},{"s":"p2","be":532.49,"cps":10.9},{"s":"p2","be":532.26,"cps":11.24},{"s":"p2","be":532.03,"cps":11.0},{"s":"p2","be":531.8,"cps":10.14},{"s":"p2","be":531.52,"cps":8.52},{"s":"p2","be":531.24,"cps":6.62},{"s":"p2","be":530.96,"cps":5.19},{"s":"p2","be":530.68,"cps":4.33},{"s":"p2","be":530.31,"cps":3.76},{"s":"p2","be":529.66,"cps":3.38},{"s":"p2","be":528.73,"cps":3.21},{"s":"p2","be":526.87,"cps":3.17},
{"s":"p3","be":538.9,"cps":3.67},{"s":"p3","be":536.16,"cps":3.62},{"s":"p3","be":534.3,"cps":3.67},{"s":"p3","be":533.37,"cps":3.74},{"s":"p3","be":532.63,"cps":3.71},{"s":"p3","be":531.98,"cps":3.86},{"s":"p3","be":531.52,"cps":4.43},{"s":"p3","be":531.24,"cps":5.67},{"s":"p3","be":531.05,"cps":7.57},{"s":"p3","be":530.87,"cps":10.43},{"s":"p3","be":530.73,"cps":12.05},{"s":"p3","be":530.63,"cps":12.57},{"s":"p3","be":530.49,"cps":12.33},{"s":"p3","be":530.31,"cps":10.9},{"s":"p3","be":530.12,"cps":8.52},{"s":"p3","be":529.94,"cps":6.62},{"s":"p3","be":529.75,"cps":5.19},{"s":"p3","be":529.47,"cps":4.05},{"s":"p3","be":529.1,"cps":3.43},{"s":"p3","be":528.73,"cps":3.24},{"s":"p3","be":526.87,"cps":3.17},
{"s":"fit","be":538.9,"cps":3.76},{"s":"fit","be":538.02,"cps":3.69},{"s":"fit","be":537.09,"cps":3.78},{"s":"fit","be":536.63,"cps":4.0},{"s":"fit","be":536.16,"cps":4.33},{"s":"fit","be":535.79,"cps":4.67},{"s":"fit","be":535.47,"cps":4.76},{"s":"fit","be":535.14,"cps":4.72},{"s":"fit","be":534.68,"cps":4.54},{"s":"fit","be":534.12,"cps":4.45},{"s":"fit","be":533.75,"cps":4.54},{"s":"fit","be":533.47,"cps":5.19},{"s":"fit","be":533.19,"cps":6.91},{"s":"fit","be":532.91,"cps":9.57},{"s":"fit","be":532.63,"cps":11.48},{"s":"fit","be":532.45,"cps":11.9},{"s":"fit","be":532.17,"cps":12.05},{"s":"fit","be":531.89,"cps":11.86},{"s":"fit","be":531.61,"cps":11.62},{"s":"fit","be":531.33,"cps":12.14},{"s":"fit","be":531.05,"cps":13.0},{"s":"fit","be":530.77,"cps":13.57},{"s":"fit","be":530.63,"cps":13.76},{"s":"fit","be":530.49,"cps":13.38},{"s":"fit","be":530.31,"cps":11.67},{"s":"fit","be":530.03,"cps":8.24},{"s":"fit","be":529.75,"cps":5.67},{"s":"fit","be":529.47,"cps":4.14},{"s":"fit","be":529.1,"cps":3.43},{"s":"fit","be":528.73,"cps":3.24},{"s":"fit","be":526.87,"cps":3.17},
{"s":"meas","be":538.9,"cps":3.76},{"s":"meas","be":538.67,"cps":3.62},{"s":"meas","be":538.49,"cps":3.43},{"s":"meas","be":538.3,"cps":3.67},{"s":"meas","be":538.11,"cps":3.71},{"s":"meas","be":537.93,"cps":3.76},{"s":"meas","be":537.74,"cps":3.62},{"s":"meas","be":537.56,"cps":3.67},{"s":"meas","be":537.37,"cps":3.57},{"s":"meas","be":537.19,"cps":3.71},{"s":"meas","be":537.0,"cps":3.86},{"s":"meas","be":536.72,"cps":3.95},{"s":"meas","be":536.44,"cps":4.1},{"s":"meas","be":536.16,"cps":4.29},{"s":"meas","be":535.88,"cps":4.57},{"s":"meas","be":535.61,"cps":4.81},{"s":"meas","be":535.47,"cps":4.86},{"s":"meas","be":535.33,"cps":4.81},{"s":"meas","be":535.14,"cps":4.81},{"s":"meas","be":534.95,"cps":4.72},{"s":"meas","be":534.77,"cps":4.57},{"s":"meas","be":534.49,"cps":4.52},{"s":"meas","be":534.3,"cps":4.48},{"s":"meas","be":534.12,"cps":4.43},{"s":"meas","be":533.93,"cps":4.33},{"s":"meas","be":533.75,"cps":4.43},{"s":"meas","be":533.56,"cps":4.81},{"s":"meas","be":533.37,"cps":5.67},{"s":"meas","be":533.19,"cps":7.1},{"s":"meas","be":533.0,"cps":9.0},{"s":"meas","be":532.82,"cps":10.71},{"s":"meas","be":532.63,"cps":11.67},{"s":"meas","be":532.49,"cps":11.9},{"s":"meas","be":532.35,"cps":12.05},{"s":"meas","be":532.17,"cps":12.14},{"s":"meas","be":531.98,"cps":11.95},{"s":"meas","be":531.8,"cps":11.76},{"s":"meas","be":531.61,"cps":11.67},{"s":"meas","be":531.42,"cps":11.86},{"s":"meas","be":531.24,"cps":12.52},{"s":"meas","be":531.05,"cps":13.0},{"s":"meas","be":530.91,"cps":13.48},{"s":"meas","be":530.77,"cps":13.71},{"s":"meas","be":530.68,"cps":13.76},{"s":"meas","be":530.63,"cps":13.62},{"s":"meas","be":530.59,"cps":13.86},{"s":"meas","be":530.54,"cps":13.62},{"s":"meas","be":530.45,"cps":13.0},{"s":"meas","be":530.31,"cps":11.38},{"s":"meas","be":530.12,"cps":9.0},{"s":"meas","be":529.94,"cps":7.1},{"s":"meas","be":529.75,"cps":5.67},{"s":"meas","be":529.56,"cps":4.62},{"s":"meas","be":529.38,"cps":3.95},{"s":"meas","be":529.19,"cps":3.57},{"s":"meas","be":529.01,"cps":3.67},{"s":"meas","be":528.82,"cps":3.57},{"s":"meas","be":528.63,"cps":3.33},{"s":"meas","be":528.45,"cps":3.19},{"s":"meas","be":528.26,"cps":3.29},{"s":"meas","be":528.08,"cps":3.1},{"s":"meas","be":527.89,"cps":3.24},{"s":"meas","be":527.61,"cps":3.19},{"s":"meas","be":527.33,"cps":3.14},{"s":"meas","be":527.05,"cps":3.19},{"s":"meas","be":526.87,"cps":3.24}
],
"e_tag":[{"be":539.89,"cps":16.02,"t":"(e)"}],
"e_s":[{"be":538.89,"cps":15.29,"t":"Residual STD = 0.792552"}],
"e_x":[{"be":538.95,"cps":15.71,"t":"x 10³"}],
"e_o":[{"be":530.54,"cps":14.54,"t":"O 1s"}],
"e_big":[{"be":538.67,"cps":13.02,"t":"BiOClBr on cotton"},{"be":538.67,"cps":11.97,"t":"with polymeric"},{"be":538.67,"cps":10.95,"t":"binders"}],
"e_num":[{"be":536.91,"cps":4.95,"t":"535.13"},{"be":533.24,"cps":8.81,"t":"532.13"},{"be":530.17,"cps":8.1,"t":"530.56"}]
},
"spacing":28,
"vconcat":[
{"hconcat":[
 {"width":1,"height":399,"data":{"values":[{}]},"mark":{"type":"point","opacity":0}},
 {"width":538,"height":399,
  "encoding":{
   "x":{"field":"be","type":"quantitative","scale":{"domain":[525,540],"reverse":true,"nice":false,"zero":false},
    "axis":{"title":"BE (eV)","values":[540,539,538,537,536,535,534,533,532,531,530,529,528,527,526,525],"labelExpr":"datum.value % 2 == 0 ? '' + datum.value : ''","tickSize":5,"labelPadding":7,"labelFontSize":13,"titleFontSize":18,"titlePadding":17,"domainColor":"#333","tickColor":"#333","labelColor":"#555","titleColor":"#333"}},
   "y":{"field":"cps","type":"quantitative","scale":{"domain":[0,14],"nice":false,"zero":false},
    "axis":{"title":"CPS","values":[0,1,2,3,4,5,6,7,8,9,10,11,12,13,14],"labels":false,"tickSize":7,"titleFontSize":17,"titlePadding":19,"domainColor":"#333","tickColor":"#333","titleColor":"#444"}}
  },
  "layer":[
   {"data":{"name":"a"},"mark":{"type":"line","strokeWidth":1.4},
    "encoding":{"color":{"field":"s","type":"nominal","scale":{"domain":["B","B Cot","B Pol Cot"],"range":["#333333","#e8474b","#3b3bdb"]},
     "legend":{"title":null,"orient":"top-right","offset":5,"padding":0,"symbolType":"M-4,0H4","symbolSize":110,"symbolStrokeWidth":1.6,"labelFontSize":18.5,"labelColor":"#333","rowPadding":5,"labelOffset":20}}}},
   {"data":{"name":"a_t"},"mark":{"type":"text","font":"Lato","fontSize":24,"align":"left","baseline":"alphabetic"},"encoding":{"text":{"field":"t"}}}
  ]}
 ],"spacing":158,"bounds":"flush","resolve":{"scale":{"color":"independent","strokeWidth":"independent"},"legend":{"color":"independent","strokeWidth":"independent"}}},
{"vconcat":[
 {"hconcat":[
  {"width":450,"height":430,"view":{"stroke":"#9a9a9a"},
   "encoding":{
    "x":{"field":"be","type":"quantitative","scale":{"domain":[528.29,536.7],"reverse":true,"nice":false,"zero":false},
     "axis":{"title":"Binding Energy (eV)","values":[536.6,536.4,536.2,536,535.8,535.6,535.4,535.2,535,534.8,534.6,534.4,534.2,534,533.8,533.6,533.4,533.2,533,532.8,532.6,532.4,532.2,532,531.8,531.6,531.4,531.2,531,530.8,530.6,530.4,530.2,530,529.8,529.6,529.4,529.2,529,528.8,528.6,528.4],"labelExpr":"abs(datum.value - round(datum.value)) < 0.01 ? '' + round(datum.value) : ''","tickSize":4,"labelPadding":7,"labelFontSize":12.5,"titleFontSize":13.5,"titlePadding":2}},
    "y":{"field":"cps","type":"quantitative","scale":{"domain":[0.77,13.08],"nice":false,"zero":false},
     "axis":{"title":"CPS","values":[1,2,3,4,5,6,7,8,9,10,11,12,13],"labelExpr":"datum.value % 2 == 0 ? '' + datum.value : ''","tickSize":3,"labelPadding":3,"labelFontSize":12.5,"titleFontSize":12.5,"titlePadding":10}}
   },
   "layer":[
    {"data":{"name":"b"},"mark":{"type":"line"},
     "encoding":{"color":{"field":"s","type":"nominal","scale":{"domain":["res","zero","bg","c1","c2","fit","meas"],"range":["#c8a88a","#8f8f8f","#a0a0a0","#d9959a","#d3cca2","#e57a76","#d9403c"]},"legend":null},
      "strokeWidth":{"field":"s","type":"nominal","scale":{"domain":["res","zero","bg","c1","c2","fit","meas"],"range":[1,1.3,1,1,1,1,1.3]},"legend":null}}},
    {"data":{"name":"b_tag"},"mark":{"type":"text","font":"Lato","fontSize":24,"align":"left","baseline":"alphabetic"},"encoding":{"text":{"field":"t"}}},
    {"data":{"name":"b_s"},"mark":{"type":"text","fontSize":14,"align":"left","baseline":"alphabetic","color":"#2a2a2a"},"encoding":{"text":{"field":"t"}}},
    {"data":{"name":"b_x"},"mark":{"type":"text","fontSize":12,"align":"left","baseline":"alphabetic","color":"#333"},"encoding":{"text":{"field":"t"}}},
    {"data":{"name":"b_big"},"mark":{"type":"text","fontSize":30,"align":"left","baseline":"alphabetic"},"encoding":{"text":{"field":"t"}}},
    {"data":{"name":"b_num"},"mark":{"type":"text","fontSize":24.5,"align":"left","baseline":"alphabetic"},"encoding":{"text":{"field":"t"}}}
   ]},
  {"width":414,"height":435,"view":{"stroke":"#9a9a9a"},
   "encoding":{
    "x":{"field":"be","type":"quantitative","scale":{"domain":[526.64,538.55],"reverse":true,"nice":false,"zero":false},
     "axis":{"title":"Binding Energy (eV)","values":[538.5,538,537.5,537,536.5,536,535.5,535,534.5,534,533.5,533,532.5,532,531.5,531,530.5,530,529.5,529,528.5,528,527.5,527],"labelExpr":"datum.value % 2 == 0 ? '' + datum.value : ''","tickSize":4,"labelPadding":7,"labelFontSize":12.5,"titleFontSize":13.5,"titlePadding":2}},
    "y":{"field":"cps","type":"quantitative","scale":{"domain":[13.61,24.74],"nice":false,"zero":false},
     "axis":{"title":"CPS","values":[14,15,16,17,18,19,20,21,22,23,24],"labelExpr":"datum.value % 2 == 0 ? '' + datum.value : ''","tickSize":3,"labelPadding":3,"labelFontSize":12.5,"titleFontSize":12.5,"titlePadding":9}}
   },
   "layer":[
    {"data":{"name":"c"},"mark":{"type":"line"},
     "encoding":{"color":{"field":"s","type":"nominal","scale":{"domain":["res","zero","bg","p1","p2","p3","p4","fit","meas"],"range":["#c8a88a","#8f8f8f","#a0a0a0","#9fb3d9","#e3a3b3","#aab4cc","#c3d9a5","#e57a76","#d9403c"]},"legend":null},
      "strokeWidth":{"field":"s","type":"nominal","scale":{"domain":["res","zero","bg","p1","p2","p3","p4","fit","meas"],"range":[1,1.3,1,1,1,1,1,1,1.3]},"legend":null}}},
    {"data":{"name":"c_tag"},"mark":{"type":"text","font":"Lato","fontSize":24,"align":"left","baseline":"alphabetic"},"encoding":{"text":{"field":"t"}}},
    {"data":{"name":"c_s"},"mark":{"type":"text","fontSize":14,"align":"left","baseline":"alphabetic","color":"#2a2a2a"},"encoding":{"text":{"field":"t"}}},
    {"data":{"name":"c_x"},"mark":{"type":"text","fontSize":12,"align":"left","baseline":"alphabetic","color":"#333"},"encoding":{"text":{"field":"t"}}},
    {"data":{"name":"c_o"},"mark":{"type":"text","fontSize":12,"fontWeight":"bold","angle":270,"align":"center","baseline":"middle","color":"#333"},"encoding":{"text":{"field":"t"}}},
    {"data":{"name":"c_big"},"mark":{"type":"text","font":"Lato","fontSize":27,"align":"left","baseline":"alphabetic"},"encoding":{"text":{"field":"t"}}},
    {"data":{"name":"c_num"},"mark":{"type":"text","font":"Lato","fontSize":25.5,"align":"left","baseline":"alphabetic"},"encoding":{"text":{"field":"t"}}}
   ]}
 ],"spacing":71,"bounds":"flush","resolve":{"scale":{"color":"independent","strokeWidth":"independent"},"legend":{"color":"independent","strokeWidth":"independent"}}},
 {"hconcat":[
  {"width":447,"height":449,"view":{"stroke":"#9a9a9a"},
   "encoding":{
    "x":{"field":"be","type":"quantitative","scale":{"domain":[527.65,538.16],"reverse":true,"nice":false,"zero":false},
     "axis":{"title":"Binding Energy (eV)","values":[538,537.5,537,536.5,536,535.5,535,534.5,534,533.5,533,532.5,532,531.5,531,530.5,530,529.5,529,528.5,528],"labelExpr":"datum.value % 2 == 0 ? '' + datum.value : ''","tickSize":4,"labelPadding":7,"labelFontSize":12.5,"titleFontSize":13.5,"titlePadding":2}},
    "y":{"field":"cps","type":"quantitative","scale":{"domain":[3.95,19.05],"nice":false,"zero":false},
     "axis":{"title":"CPS","values":[4,5,6,7,8,9,10,11,12,13,14,15,16,17,18,19],"labelExpr":"datum.value % 2 == 0 ? '' + datum.value : ''","tickSize":3,"labelPadding":3,"labelFontSize":12.5,"titleFontSize":12.5,"titlePadding":11}}
   },
   "layer":[
    {"data":{"name":"d"},"mark":{"type":"line"},
     "encoding":{"color":{"field":"s","type":"nominal","scale":{"domain":["res","zero","bg","p1","p2","p3","fit","meas"],"range":["#c8a88a","#8f8f8f","#a0a0a0","#d49a9a","#9fb0dd","#bcd6a0","#e57a76","#d9403c"]},"legend":null},
      "strokeWidth":{"field":"s","type":"nominal","scale":{"domain":["res","zero","bg","p1","p2","p3","fit","meas"],"range":[1,1.3,1,1,1,1,1,1.3]},"legend":null}}},
    {"data":{"name":"d_tag"},"mark":{"type":"text","font":"Lato","fontSize":24,"align":"left","baseline":"alphabetic"},"encoding":{"text":{"field":"t"}}},
    {"data":{"name":"d_s"},"mark":{"type":"text","fontSize":14,"align":"left","baseline":"alphabetic","color":"#2a2a2a"},"encoding":{"text":{"field":"t"}}},
    {"data":{"name":"d_x"},"mark":{"type":"text","fontSize":12,"align":"left","baseline":"alphabetic","color":"#333"},"encoding":{"text":{"field":"t"}}},
    {"data":{"name":"d_big"},"mark":{"type":"text","fontSize":30.5,"align":"left","baseline":"alphabetic"},"encoding":{"text":{"field":"t"}}},
    {"data":{"name":"d_num"},"mark":{"type":"text","fontSize":24.5,"align":"left","baseline":"alphabetic"},"encoding":{"text":{"field":"t"}}}
   ]},
  {"width":433,"height":452,"view":{"stroke":"#9a9a9a"},
   "encoding":{
    "x":{"field":"be","type":"quantitative","scale":{"domain":[526.87,538.95],"reverse":true,"nice":false,"zero":false},
     "axis":{"title":"Binding Energy (eV)","values":[538,537,536,535,534,533,532,531,530,529,528,527],"labelExpr":"(537 - datum.value) % 3 == 0 ? '' + datum.value : ''","tickSize":4,"labelPadding":7,"labelFontSize":12.5,"titleFontSize":13.5,"titlePadding":2}},
    "y":{"field":"cps","type":"quantitative","scale":{"domain":[2.86,15.64],"nice":false,"zero":false},
     "axis":{"title":"CPS","values":[3,4,5,6,7,8,9,10,11,12,13,14,15],"labelExpr":"datum.value % 2 == 0 ? '' + datum.value : ''","tickSize":3,"labelPadding":3,"labelFontSize":12.5,"titleFontSize":12.5,"titlePadding":9}}
   },
   "layer":[
    {"data":{"name":"e"},"mark":{"type":"line"},
     "encoding":{"color":{"field":"s","type":"nominal","scale":{"domain":["res","zero","bg","p0","p1","p2","p3","fit","meas"],"range":["#c8a88a","#8f8f8f","#a0a0a0","#b0aad0","#c9d49a","#d9a0aa","#9fb4e0","#e57a76","#d9403c"]},"legend":null},
      "strokeWidth":{"field":"s","type":"nominal","scale":{"domain":["res","zero","bg","p0","p1","p2","p3","fit","meas"],"range":[1,1.3,1,1,1,1,1,1,1.3]},"legend":null}}},
    {"data":{"name":"e_tag"},"mark":{"type":"text","font":"Lato","fontSize":24,"align":"left","baseline":"alphabetic"},"encoding":{"text":{"field":"t"}}},
    {"data":{"name":"e_s"},"mark":{"type":"text","fontSize":14,"align":"left","baseline":"alphabetic","color":"#2a2a2a"},"encoding":{"text":{"field":"t"}}},
    {"data":{"name":"e_x"},"mark":{"type":"text","fontSize":12,"align":"left","baseline":"alphabetic","color":"#333"},"encoding":{"text":{"field":"t"}}},
    {"data":{"name":"e_o"},"mark":{"type":"text","fontSize":12,"fontWeight":"bold","angle":270,"align":"center","baseline":"middle","color":"#333"},"encoding":{"text":{"field":"t"}}},
    {"data":{"name":"e_big"},"mark":{"type":"text","fontSize":30,"align":"left","baseline":"alphabetic"},"encoding":{"text":{"field":"t"}}},
    {"data":{"name":"e_num"},"mark":{"type":"text","font":"Lato","fontSize":26,"align":"left","baseline":"alphabetic"},"encoding":{"text":{"field":"t"}}}
   ]}
 ],"spacing":68,"bounds":"flush","resolve":{"scale":{"color":"independent","strokeWidth":"independent"},"legend":{"color":"independent","strokeWidth":"independent"}}}
],"spacing":10,"resolve":{"scale":{"color":"independent","strokeWidth":"independent"},"legend":{"color":"independent","strokeWidth":"independent"}}}
]
}
